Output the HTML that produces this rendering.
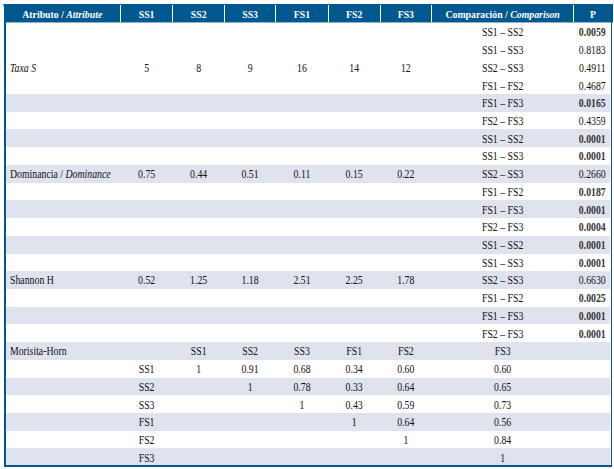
<!DOCTYPE html>
<html><head><meta charset="utf-8"><style>
html,body{margin:0;padding:0;background:#fff;width:614px;height:469px;overflow:hidden;position:relative}
body{font-family:"Liberation Serif",serif;font-size:9.8px;color:#111}
div{position:absolute}
.t{white-space:nowrap;line-height:17.7px;height:17.7px;text-align:center;transform:translateX(-50%) scaleY(1.2);margin-top:0.0px}
b{font-weight:bold;-webkit-text-stroke:0;color:#363636}
.h{color:#fff;font-weight:bold;white-space:nowrap;text-align:center;transform:translateX(-50%) scaleY(1.0)}
.sh{background:#dfe3ee}
.sep{background:#fff;width:1px}
</style></head><body>

<div class="sh" style="left:6px;top:93.90px;width:604.3px;height:17.9px"></div>
<div class="sh" style="left:6px;top:129.35px;width:604.3px;height:17.9px"></div>
<div class="sh" style="left:6px;top:164.80px;width:604.3px;height:17.9px"></div>
<div class="sh" style="left:6px;top:200.25px;width:604.3px;height:17.9px"></div>
<div class="sh" style="left:6px;top:235.70px;width:604.3px;height:17.9px"></div>
<div class="sh" style="left:6px;top:271.15px;width:604.3px;height:17.9px"></div>
<div class="sh" style="left:6px;top:306.60px;width:604.3px;height:17.9px"></div>
<div class="sh" style="left:6px;top:342.05px;width:604.3px;height:17.9px"></div>
<div class="sh" style="left:6px;top:377.50px;width:604.3px;height:17.9px"></div>
<div class="sh" style="left:6px;top:412.95px;width:604.3px;height:17.9px"></div>
<div class="sh" style="left:6px;top:448.40px;width:604.3px;height:17.9px"></div>
<div style="left:4px;top:4px;width:608.5px;height:18px;background:#00588f"></div>
<div style="left:4px;top:22px;width:608.5px;height:1px;background:#00588f;opacity:0.45"></div>
<div style="left:3.4px;top:4px;width:1px;height:1.5px;background:#00588f;opacity:0.6"></div>
<div class="sep" style="left:120.00px;top:5px;height:17.00px"></div>
<div class="sep" style="left:172.25px;top:5px;height:17.00px"></div>
<div class="sep" style="left:224.10px;top:5px;height:17.00px"></div>
<div class="sep" style="left:275.10px;top:5px;height:17.00px"></div>
<div class="sep" style="left:327.90px;top:5px;height:17.00px"></div>
<div class="sep" style="left:379.50px;top:5px;height:17.00px"></div>
<div class="sep" style="left:431.20px;top:5px;height:17.00px"></div>
<div class="sep" style="left:573.10px;top:5px;height:17.00px"></div>
<div class="h" style="font-size:9.8px;left:62.25px;top:4px;height:18px;line-height:21.2px">Atributo / <i>Attribute</i></div>
<div class="h" style="font-size:9.8px;left:146.62px;top:4px;height:18px;line-height:21.2px">SS1</div>
<div class="h" style="font-size:9.8px;left:198.68px;top:4px;height:18px;line-height:21.2px">SS2</div>
<div class="h" style="font-size:9.8px;left:250.10px;top:4px;height:18px;line-height:21.2px">SS3</div>
<div class="h" style="font-size:9.8px;left:302.00px;top:4px;height:18px;line-height:21.2px">FS1</div>
<div class="h" style="font-size:9.8px;left:354.20px;top:4px;height:18px;line-height:21.2px">FS2</div>
<div class="h" style="font-size:9.8px;left:405.85px;top:4px;height:18px;line-height:21.2px">FS3</div>
<div class="h" style="font-size:9.8px;left:502.65px;top:4px;height:18px;line-height:21.2px">Comparación / <i>Comparison</i></div>
<div class="h" style="font-size:9.8px;left:593.00px;top:4px;height:18px;line-height:21.2px">P</div>
<div style="left:4px;top:4px;width:2px;height:463px;background:#00588f"></div>
<div style="left:610.8px;top:4px;width:1.7px;height:463px;background:#00588f"></div>
<div style="left:4px;top:465.3px;width:608px;height:1.7px;background:#00588f"></div>
<div class="t" style="left:502.65px;top:23.40px">SS1 – SS2</div>
<div class="t" style="left:592.30px;top:23.40px"><b>0.0059</b></div>
<div class="t" style="left:502.65px;top:41.12px">SS1 – SS3</div>
<div class="t" style="left:592.30px;top:41.12px">0.8183</div>
<div class="t" style="left:10px;top:58.84px;transform:scaleY(1.2);transform-origin:0 50%;text-align:left"><i>Taxa S</i></div>
<div class="t" style="left:146.62px;top:58.84px">5</div>
<div class="t" style="left:198.68px;top:58.84px">8</div>
<div class="t" style="left:250.10px;top:58.84px">9</div>
<div class="t" style="left:302.00px;top:58.84px">16</div>
<div class="t" style="left:354.20px;top:58.84px">14</div>
<div class="t" style="left:405.85px;top:58.84px">12</div>
<div class="t" style="left:502.65px;top:58.84px">SS2 – SS3</div>
<div class="t" style="left:592.30px;top:58.84px">0.4911</div>
<div class="t" style="left:502.65px;top:76.56px">FS1 – FS2</div>
<div class="t" style="left:592.30px;top:76.56px">0.4687</div>
<div class="t" style="left:502.65px;top:94.28px">FS1 – FS3</div>
<div class="t" style="left:592.30px;top:94.28px"><b>0.0165</b></div>
<div class="t" style="left:502.65px;top:112.00px">FS2 – FS3</div>
<div class="t" style="left:592.30px;top:112.00px">0.4359</div>
<div class="t" style="left:502.65px;top:129.72px">SS1 – SS2</div>
<div class="t" style="left:592.30px;top:129.72px"><b>0.0001</b></div>
<div class="t" style="left:502.65px;top:147.44px">SS1 – SS3</div>
<div class="t" style="left:592.30px;top:147.44px"><b>0.0001</b></div>
<div class="t" style="left:10px;top:165.16px;transform:scaleY(1.2);transform-origin:0 50%;text-align:left">Dominancia / <i>Dominance</i></div>
<div class="t" style="left:146.62px;top:165.16px">0.75</div>
<div class="t" style="left:198.68px;top:165.16px">0.44</div>
<div class="t" style="left:250.10px;top:165.16px">0.51</div>
<div class="t" style="left:302.00px;top:165.16px">0.11</div>
<div class="t" style="left:354.20px;top:165.16px">0.15</div>
<div class="t" style="left:405.85px;top:165.16px">0.22</div>
<div class="t" style="left:502.65px;top:165.16px">SS2 – SS3</div>
<div class="t" style="left:592.30px;top:165.16px">0.2660</div>
<div class="t" style="left:502.65px;top:182.88px">FS1 – FS2</div>
<div class="t" style="left:592.30px;top:182.88px"><b>0.0187</b></div>
<div class="t" style="left:502.65px;top:200.60px">FS1 – FS3</div>
<div class="t" style="left:592.30px;top:200.60px"><b>0.0001</b></div>
<div class="t" style="left:502.65px;top:218.32px">FS2 – FS3</div>
<div class="t" style="left:592.30px;top:218.32px"><b>0.0004</b></div>
<div class="t" style="left:502.65px;top:236.04px">SS1 – SS2</div>
<div class="t" style="left:592.30px;top:236.04px"><b>0.0001</b></div>
<div class="t" style="left:502.65px;top:253.76px">SS1 – SS3</div>
<div class="t" style="left:592.30px;top:253.76px"><b>0.0001</b></div>
<div class="t" style="left:10px;top:271.48px;transform:scaleY(1.2);transform-origin:0 50%;text-align:left">Shannon H</div>
<div class="t" style="left:146.62px;top:271.48px">0.52</div>
<div class="t" style="left:198.68px;top:271.48px">1.25</div>
<div class="t" style="left:250.10px;top:271.48px">1.18</div>
<div class="t" style="left:302.00px;top:271.48px">2.51</div>
<div class="t" style="left:354.20px;top:271.48px">2.25</div>
<div class="t" style="left:405.85px;top:271.48px">1.78</div>
<div class="t" style="left:502.65px;top:271.48px">SS2 – SS3</div>
<div class="t" style="left:592.30px;top:271.48px">0.6630</div>
<div class="t" style="left:502.65px;top:289.20px">FS1 – FS2</div>
<div class="t" style="left:592.30px;top:289.20px"><b>0.0025</b></div>
<div class="t" style="left:502.65px;top:306.92px">FS1 – FS3</div>
<div class="t" style="left:592.30px;top:306.92px"><b>0.0001</b></div>
<div class="t" style="left:502.65px;top:324.64px">FS2 – FS3</div>
<div class="t" style="left:592.30px;top:324.64px"><b>0.0001</b></div>
<div class="t" style="left:10px;top:342.36px;transform:scaleY(1.2);transform-origin:0 50%;text-align:left">Morisita-Horn</div>
<div class="t" style="left:198.68px;top:342.36px">SS1</div>
<div class="t" style="left:250.10px;top:342.36px">SS2</div>
<div class="t" style="left:302.00px;top:342.36px">SS3</div>
<div class="t" style="left:354.20px;top:342.36px">FS1</div>
<div class="t" style="left:405.85px;top:342.36px">FS2</div>
<div class="t" style="left:502.65px;top:342.36px">FS3</div>
<div class="t" style="left:146.62px;top:360.08px">SS1</div>
<div class="t" style="left:198.68px;top:360.08px">1</div>
<div class="t" style="left:250.10px;top:360.08px">0.91</div>
<div class="t" style="left:302.00px;top:360.08px">0.68</div>
<div class="t" style="left:354.20px;top:360.08px">0.34</div>
<div class="t" style="left:405.85px;top:360.08px">0.60</div>
<div class="t" style="left:502.65px;top:360.08px">0.60</div>
<div class="t" style="left:146.62px;top:377.80px">SS2</div>
<div class="t" style="left:250.10px;top:377.80px">1</div>
<div class="t" style="left:302.00px;top:377.80px">0.78</div>
<div class="t" style="left:354.20px;top:377.80px">0.33</div>
<div class="t" style="left:405.85px;top:377.80px">0.64</div>
<div class="t" style="left:502.65px;top:377.80px">0.65</div>
<div class="t" style="left:146.62px;top:395.52px">SS3</div>
<div class="t" style="left:302.00px;top:395.52px">1</div>
<div class="t" style="left:354.20px;top:395.52px">0.43</div>
<div class="t" style="left:405.85px;top:395.52px">0.59</div>
<div class="t" style="left:502.65px;top:395.52px">0.73</div>
<div class="t" style="left:146.62px;top:413.24px">FS1</div>
<div class="t" style="left:354.20px;top:413.24px">1</div>
<div class="t" style="left:405.85px;top:413.24px">0.64</div>
<div class="t" style="left:502.65px;top:413.24px">0.56</div>
<div class="t" style="left:146.62px;top:430.96px">FS2</div>
<div class="t" style="left:405.85px;top:430.96px">1</div>
<div class="t" style="left:502.65px;top:430.96px">0.84</div>
<div class="t" style="left:146.62px;top:448.68px">FS3</div>
<div class="t" style="left:502.65px;top:448.68px">1</div>
</body></html>
